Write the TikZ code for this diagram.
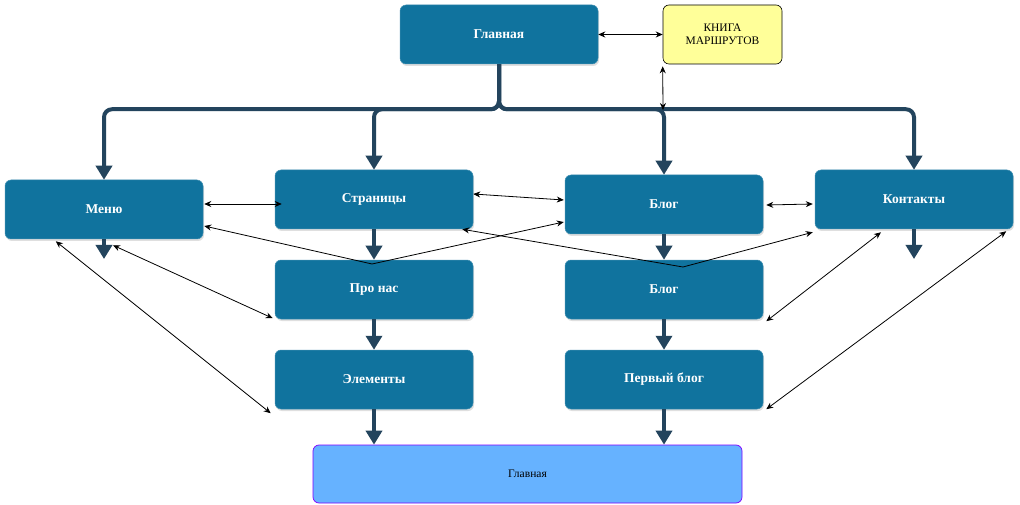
\documentclass[tikz,border=0pt]{standalone}
\usepackage{fontspec}
\setmainfont{Liberation Serif}
\usetikzlibrary{arrows.meta,shadows,calc}
\definecolor{boxblue}{HTML}{10739E}
\definecolor{linec}{HTML}{23445D}
\definecolor{bookfill}{HTML}{FFFF99}
\definecolor{botfill}{HTML}{66B2FF}
\definecolor{botdraw}{HTML}{7F00FF}
\begin{document}
\begin{tikzpicture}[x=1pt,y=-1pt,
  box/.style={rounded corners=6pt, fill=boxblue, draw=boxblue!80!white, line width=0.5pt,
    text=white, font=\bfseries\fontsize{13.5}{15}\selectfont,
    minimum width=198pt, minimum height=59pt, inner sep=0pt,
    drop shadow={opacity=0.25, shadow xshift=1pt, shadow yshift=-2pt}},
  bookbox/.style={rounded corners=6pt, fill=bookfill, draw=black, line width=0.6pt,
    font=\fontsize{11.5}{13.5}\selectfont, align=center,
    minimum width=119pt, minimum height=59pt, inner sep=0pt},
  botbox/.style={rounded corners=6pt, fill=botfill, draw=botdraw, line width=0.7pt,
    font=\fontsize{11.5}{13.5}\selectfont,
    minimum width=429pt, minimum height=58pt, inner sep=0pt},
  flow/.style={line width=4pt, draw=linec, rounded corners=8pt,
    -{Triangle[width=16pt,length=14pt]}},
  link/.style={line width=0.8pt, draw=black,
    {Stealth[length=7pt,width=6pt]}-{Stealth[length=7pt,width=6pt]}}
]
\useasboundingbox[fill=white] (0,0) rectangle (1020,505);

\node[box] (gl) at (499,34.5) {Главная};
\node[bookbox] (book) at (722.5,34.5) {КНИГА\\МАРШРУТОВ};
\node[box] (menu) at (104,209.5) {Меню};
\node[box] (pages) at (374,199.5) {Страницы};
\node[box] (blog) at (664,204.5) {Блог};
\node[box] (contacts) at (914,199.5) {Контакты};
\node[box] (about) at (374,289.5) {Про нас};
\node[box] (blog2) at (664,289.5) {Блог};
\node[box] (elems) at (374,379.5) {Элементы};
\node[box] (first) at (664,379.5) {Первый блог};
\node[botbox] (bottom) at (527.5,474) {Главная};

\coordinate (menuend) at (104,259);
\coordinate (contend) at (914,259);
\coordinate (bus) at (663,110);
\coordinate (v1) at (372,264);
\coordinate (v2) at (683,267);

% thick flow arrows
\draw[flow] (gl.south) -- ++(0,45) -| (menu.north);
\draw[flow] (gl.south) -- ++(0,45) -| (pages.north);
\draw[flow] (gl.south) -- ++(0,45) -| (blog.north);
\draw[flow] (gl.south) -- ++(0,45) -| (contacts.north);
\draw[flow] (menu.south) -- (menuend);
\draw[flow] (contacts.south) -- (contend);
\draw[flow] (pages.south) -- (about.north);
\draw[flow] (about.south) -- (elems.north);
\draw[flow] (elems.south) -- (elems.south |- bottom.north);
\draw[flow] (blog.south) -- (blog2.north);
\draw[flow] (blog2.south) -- (first.north);
\draw[flow] (first.south) -- (first.south |- bottom.north);

% thin links
\draw[link] (gl.east) -- (book.west);
\draw[link] ($(book.south west)+(0,2)$) -- (bus);
\draw[link] ($(menu.east)+(1,-5.5)$) -- ($(pages.west)+(7,4.5)$);
\draw[link] ($(pages.east)+(0,-5.5)$) -- ($(blog.west)+(-1,-4.5)$);
\draw[link] ($(menu.east)+(1,16.5)$) -- (v1) -- ($(blog.west)+(-1,17.5)$);
\draw[link] ($(pages.south east)+(-11,0)$) -- (v2) -- ($(contacts.south west)+(-2,3)$);
\draw[link] ($(blog.east)+(3,0.5)$) -- ($(contacts.west)+(-2,4.5)$);
\draw[link] ($(blog2.south east)+(3,2)$) -- ($(contacts.south)+(-33,3)$);
\draw[link] ($(first.south east)+(3,0)$) -- ($(contacts.south east)+(-7,2)$);
\draw[link] ($(menu.south west)+(51,2)$) -- ($(elems.south west)+(-4,4)$);
\draw[link] ($(menu.south)+(9,6)$) -- ($(about.south west)+(-2,-1)$);
\end{tikzpicture}
\end{document}
